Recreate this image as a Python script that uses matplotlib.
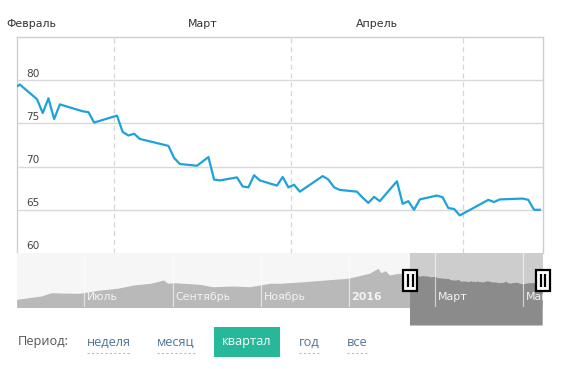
import matplotlib
matplotlib.use("Agg")
import matplotlib.pyplot as plt
import matplotlib.dates as mdates
import matplotlib.patches as mpatches
import matplotlib.transforms as mtransforms
import pandas as pd

# ---------------- data ----------------
main_dates = ["2016-02-12", "2016-02-13", "2016-02-16", "2016-02-17", "2016-02-18", "2016-02-19",
              "2016-02-20", "2016-02-24", "2016-02-25", "2016-02-26",
              "2016-03-01", "2016-03-02", "2016-03-03", "2016-03-04", "2016-03-05", "2016-03-10",
              "2016-03-11", "2016-03-12", "2016-03-15", "2016-03-17", "2016-03-18", "2016-03-19",
              "2016-03-22", "2016-03-23", "2016-03-24", "2016-03-25", "2016-03-26", "2016-03-29",
              "2016-03-30", "2016-03-31",
              "2016-04-01", "2016-04-02", "2016-04-06", "2016-04-07", "2016-04-08", "2016-04-09",
              "2016-04-12", "2016-04-13", "2016-04-14", "2016-04-15", "2016-04-16", "2016-04-19",
              "2016-04-20", "2016-04-21", "2016-04-22", "2016-04-23", "2016-04-26", "2016-04-27",
              "2016-04-28", "2016-04-29", "2016-04-30",
              "2016-05-05", "2016-05-06", "2016-05-07", "2016-05-11", "2016-05-12", "2016-05-13",
              "2016-05-14"]
main_values = [79.1, 79.5, 77.8, 76.2, 77.9, 75.5, 77.2, 76.4, 76.3, 75.1,
               75.9, 74.0, 73.6, 73.8, 73.2, 72.4, 71.0, 70.3, 70.1, 71.1, 68.5, 68.4,
               68.75, 67.7, 67.6, 69.0, 68.4, 67.8, 68.8, 67.6,
               67.9, 67.1, 68.9, 68.5, 67.6, 67.3, 67.1, 66.4, 65.8, 66.5, 66.0, 68.3,
               65.7, 66.0, 65.0, 66.2, 66.65, 66.45, 65.2, 65.1, 64.35,
               66.15, 65.9, 66.2, 66.3, 66.15, 65.0, 65.0]

hist_dates = ["2015-05-15", "2015-06-01", "2015-06-08", "2015-06-15", "2015-06-27", "2015-07-02",
              "2015-07-12", "2015-07-24", "2015-08-04", "2015-08-16", "2015-08-25", "2015-08-28",
              "2015-09-01", "2015-09-19", "2015-09-28", "2015-10-12", "2015-10-24", "2015-10-31",
              "2015-11-07", "2015-11-14", "2015-11-30", "2015-12-31", "2016-01-15", "2016-01-21",
              "2016-01-23", "2016-01-26", "2016-01-29", "2016-02-04", "2016-02-07"]
hist_values = [40.1, 45.2, 50.4, 49.9, 49.4, 51.0, 54.6, 57.3, 62.4, 65.1, 70.2, 65.1,
               66.0, 63.5, 59.7, 60.8, 59.7, 62.4, 65.1, 65.1, 67.5, 72.9, 80.7, 88.5,
               81.6, 84.7, 78.0, 80.7, 79.6]

y_ticks = [60, 65, 70, 75, 80]
top_months = [("Февраль", "2016-02-01"), ("Март", "2016-03-01"), ("Апрель", "2016-04-01")]
month_bounds = ["2016-03-01", "2016-04-01", "2016-05-01"]
nav_labels = [("Июль", "2015-07-01"), ("Сентябрь", "2015-09-01"), ("Ноябрь", "2015-11-01"),
              ("2016", "2016-01-01"), ("Март", "2016-03-01"), ("Май", "2016-05-01")]
periods = ["неделя", "месяц", "квартал", "год", "все"]
active_period = "квартал"

VIEW_START = pd.Timestamp("2016-02-12 21:50")
VIEW_END = pd.Timestamp("2016-05-15 01:40")
NAV_START = pd.Timestamp("2015-05-15 09:30")
HALF_DAY = pd.Timedelta(hours=12)

# ---------------- figure ----------------
W, H = 564, 369
fig = plt.figure(figsize=(W / 100, H / 100), dpi=100)
fig.patch.set_facecolor("white")


def rect(l, t, r, b):
    return [l / W, 1 - b / H, (r - l) / W, (b - t) / H]


ax = fig.add_axes(rect(16.5, 37, 543, 253))
nav = fig.add_axes(rect(16.5, 253, 543, 307))

md = pd.to_datetime(main_dates) + HALF_DAY
ax.plot(md, main_values, color="#1ea2da", lw=1.6, zorder=3, solid_joinstyle="round")
ax.set_xlim(VIEW_START, VIEW_END)
ax.set_ylim(60, 85)
ax.set_yticks(y_ticks[1:])
ax.yaxis.grid(True, color="#d9d9d9", lw=1)
ax.set_xticks([])
ax.tick_params(left=False, labelleft=False)
for s in ["top", "left", "right"]:
    ax.spines[s].set_color("#cfcfcf")
    ax.spines[s].set_linewidth(1)
ax.spines["bottom"].set_visible(False)

for b in month_bounds:
    ax.axvline(pd.Timestamp(b), color="#d6d6d6", lw=0.9, ls=(0, (4, 3)), zorder=1)

ytr = mtransforms.blended_transform_factory(ax.transAxes, ax.transData)
ytr = mtransforms.offset_copy(ytr, fig=fig, x=0, y=1.5, units="dots")
for v in y_ticks:
    ax.text((26 - 16.5) / 526.5, v, str(v), transform=ytr, ha="left", va="bottom",
            fontsize=7.6, color="#444444", family="DejaVu Sans")

# month labels above
xtr = mtransforms.blended_transform_factory(ax.transData, fig.transFigure)
for i, (name, start) in enumerate(top_months):
    s = pd.Timestamp(start)
    mid = s + (s + pd.offsets.MonthBegin(1) - s) / 2
    if mid < VIEW_START:
        fig.text(12.6 / W, 1 - 23.7 / H, name, ha="left", va="center", fontsize=7.9,
                 color="#333333", family="DejaVu Sans")
    else:
        ax.text(mid, 1 - 23.7 / H, name, transform=xtr, ha="center", va="center",
                fontsize=7.9, color="#333333", family="DejaVu Sans")

# ---------------- navigator ----------------
nd = pd.to_datetime(hist_dates + main_dates) + HALF_DAY
nv = hist_values + main_values
nav.set_facecolor("#f6f6f6")
nav.set_xlim(NAV_START, VIEW_END)
nav.set_ylim(28.1, 112.3)
nav.fill_between(nd, nv, 0, color="#b9b9b9", lw=0, zorder=1)
nav.axvspan(VIEW_START, VIEW_END, color="#cdcdcd", lw=0, zorder=2)
sel = nav.fill_between(nd, nv, 0, color="#8b8b8b", lw=0, zorder=3)
x0 = mdates.date2num(VIEW_START)
x1 = mdates.date2num(VIEW_END)
clip = mpatches.Rectangle((x0, 0), x1 - x0, 200, transform=nav.transData)
sel.set_clip_path(clip)
for s in nav.spines.values():
    s.set_visible(False)
nav.set_xticks([])
nav.set_yticks([])

ltr = mtransforms.blended_transform_factory(nav.transData, nav.transAxes)
ltr = mtransforms.offset_copy(ltr, fig=fig, x=3, y=0, units="dots")
for name, d in nav_labels:
    t = pd.Timestamp(d)
    nav.axvline(t, color="white", alpha=0.6, lw=0.9, zorder=4)
    nav.text(t, (307 - 297.3) / 54, name, transform=ltr, ha="left", va="center",
             fontsize=7.9, color="#f3f3f3", family="DejaVu Sans",
             fontweight="bold" if name.isdigit() else "normal", clip_on=True, zorder=5)

# handles
fig.canvas.draw()
for t in (VIEW_START, VIEW_END):
    xd = nav.transData.transform((mdates.date2num(t), 0))[0]
    hx, hw, hh = xd - 7, 14, 21
    hy = H - 290.5
    fig.add_artist(mpatches.Rectangle((hx / W, hy / H), hw / W, hh / H,
                                      transform=fig.transFigure, facecolor="white",
                                      edgecolor="black", lw=1.6, zorder=10))
    for dx in (-2.3, 2.3):
        fig.add_artist(plt.Line2D([(xd + dx) / W] * 2, [(H - 287) / H, (H - 274) / H],
                                  transform=fig.transFigure, color="black", lw=1.6,
                                  zorder=11, solid_capstyle="butt"))

# ---------------- period selector ----------------
yc = 1 - 342 / H
fig.text(18 / W, yc, "Период:", ha="left", va="center", fontsize=9.2,
         color="#555555", family="Open Sans")
link_x = [87, 157, 222.5, 298.5, 347]
for name, lx in zip(periods, link_x):
    if name == active_period:
        fig.add_artist(mpatches.Rectangle((213.5 / W, 1 - 357.2 / H), 66.5 / W, 30.5 / H,
                                          transform=fig.transFigure, facecolor="#27b89a",
                                          edgecolor="none", zorder=5))
        fig.text(247 / W, yc, name, ha="center", va="center", fontsize=9.2,
                 color="white", family="Open Sans", zorder=6)
    else:
        t = fig.text(lx / W, yc, name, ha="left", va="center", fontsize=9.2,
                     color="#4e7597", family="Open Sans")
        bb = t.get_window_extent(renderer=fig.canvas.get_renderer())
        fig.add_artist(plt.Line2D([bb.x0 / W, bb.x1 / W], [1 - 352.5 / H] * 2,
                                  transform=fig.transFigure, color="#aebfcc", lw=0.8,
                                  ls=(0, (2, 2))))

fig.savefig("out.png", dpi=100, facecolor="white")
